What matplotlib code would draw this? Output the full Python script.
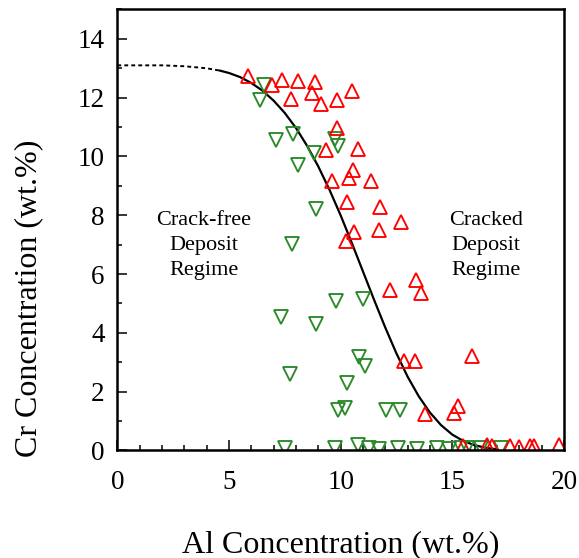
import matplotlib
matplotlib.use("Agg")
import matplotlib.pyplot as plt
from matplotlib.ticker import MultipleLocator

# Al / Cr composition of deposits, split by whether they cracked
cracked_al = [5.85, 6.92, 7.38, 8.10, 8.87, 7.80, 8.74, 9.14, 9.85, 10.49,
              9.85, 9.36, 10.79, 9.62, 10.36, 10.54, 11.37, 10.27, 11.76, 12.72,
              11.73, 10.58, 10.24, 13.37, 12.22, 13.59, 15.89, 12.83, 13.32, 13.78,
              15.27, 15.08, 15.50, 16.56, 16.80, 17.60, 18.00, 18.50, 18.65, 19.76]
cracked_cr = [12.74, 12.44, 12.60, 12.57, 12.52, 11.95, 12.15, 11.80, 11.93, 12.22,
              10.98, 10.22, 10.25, 9.15, 9.28, 9.54, 9.15, 8.45, 8.27, 7.78,
              7.51, 7.43, 7.14, 5.79, 5.45, 5.36, 3.22, 3.05, 3.05, 1.24,
              1.52, 1.27, 0.15, 0.18, 0.15, 0.15, 0.12, 0.15, 0.15, 0.18]

crackfree_al = [6.59, 6.40, 7.12, 7.86, 9.75, 9.88, 8.83, 8.08, 8.90, 7.83,
                9.79, 10.98, 7.34, 8.90, 10.83, 11.09, 7.75, 10.27, 9.88, 10.18,
                12.05, 12.65, 7.49, 9.75, 10.80, 11.28, 11.73, 12.59, 13.40, 14.33,
                14.85, 15.40, 15.67, 16.27, 17.18]
crackfree_cr = [12.43, 11.93, 10.56, 10.76, 10.59, 10.34, 10.11, 9.70, 8.22, 7.01,
                5.10, 5.15, 4.53, 4.30, 3.18, 2.89, 2.61, 2.31, 1.36, 1.44,
                1.36, 1.36, 0.07, 0.07, 0.20, 0.07, 0.05, 0.07, 0.05, 0.07,
                0.05, 0.07, 0.07, 0.07, 0.07]

# boundary between the two regimes; first points are the extrapolated part
boundary_al = [0, 1, 2, 3, 4, 4.6, 5, 5.5, 6, 6.5, 7, 7.5, 8, 8.5, 9, 9.5,
               10, 10.5, 11, 11.5, 12, 12.5, 13, 13.5, 14, 14.5, 15, 15.5, 16, 16.5, 17]
boundary_cr = [13.10, 13.10, 13.10, 13.07, 13.00, 12.92, 12.84, 12.70, 12.50, 12.24,
               11.90, 11.48, 10.97, 10.36, 9.66, 8.87, 8.00, 7.06, 6.09, 5.12,
               4.18, 3.30, 2.51, 1.84, 1.29, 0.86, 0.54, 0.32, 0.18, 0.09, 0.04]
n_extrap = 6

plt.rcParams["font.family"] = "Liberation Serif"

fig = plt.figure(figsize=(5.79, 5.58), dpi=100)
ax = fig.add_axes([0.2026, 0.1927, 0.7714, 0.7903])

ax.plot(boundary_al[:n_extrap], boundary_cr[:n_extrap], color="black",
        lw=1.4, dashes=(2, 1.6))
ax.plot(boundary_al[n_extrap - 1:], boundary_cr[n_extrap - 1:], color="black", lw=1.6)

ax.plot(crackfree_al, crackfree_cr, linestyle="none", marker="v", ms=9.5,
        mfc="none", mec="#2a8a2a", mew=1.35)
ax.plot(cracked_al, cracked_cr, linestyle="none", marker="^", ms=9.5,
        mfc="none", mec="#ff0000", mew=1.35)

ax.text(3.87, 6.97, "Crack-free\nDeposit\nRegime", ha="center", va="center",
        fontsize=16, linespacing=1.45)
ax.text(16.5, 6.97, "Cracked\nDeposit\nRegime", ha="center", va="center",
        fontsize=16, linespacing=1.45)

ax.set_xlim(0, 20)
ax.set_ylim(0, 15)
ax.xaxis.set_major_locator(MultipleLocator(5))
ax.xaxis.set_minor_locator(MultipleLocator(1))
ax.yaxis.set_major_locator(MultipleLocator(2))
ax.yaxis.set_minor_locator(MultipleLocator(1))
ax.set_yticks(range(0, 15, 2))
ax.tick_params(which="both", direction="in", width=1.1, labelsize=19.5)
ax.tick_params(which="major", length=7)
ax.tick_params(which="minor", length=3.5)
ax.tick_params(axis="x", which="major", pad=14)
ax.tick_params(axis="y", which="major", pad=9)
for spine in ax.spines.values():
    spine.set_linewidth(1.8)

ax.set_xlabel("Al Concentration (wt.%)", fontsize=23)
ax.set_ylabel("Cr Concentration (wt.%)", fontsize=23)
ax.xaxis.set_label_coords(0.5, -0.18)
ax.yaxis.set_label_coords(-0.165, 0.345)

fig.savefig("out.png", dpi=100)
